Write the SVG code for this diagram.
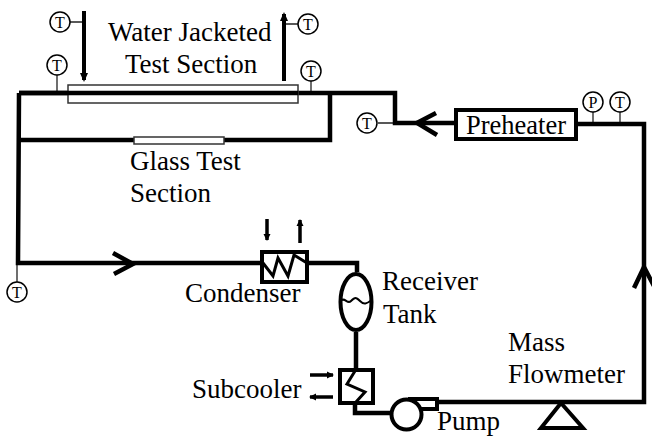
<svg xmlns="http://www.w3.org/2000/svg" width="652" height="436" viewBox="0 0 652 436">
<defs>
<marker id="ah" markerUnits="userSpaceOnUse" markerWidth="11" markerHeight="12" refX="7" refY="5" orient="auto"><path d="M0 1L9 5L0 9Z" fill="#000"/></marker>
<marker id="ahs" markerUnits="userSpaceOnUse" markerWidth="10" markerHeight="10" refX="6" refY="5" orient="auto"><path d="M0 1.500L7 5L0 8.500Z" fill="#000"/></marker>
</defs>
<style>
.p{fill:none;stroke:#000;stroke-width:4.500}
.c{fill:none;stroke:#000;stroke-width:3}
.w{fill:#fff;stroke:#000;stroke-width:4}
.t{fill:none;stroke:#222;stroke-width:1.300}
.tc{fill:#fff;stroke:#000;stroke-width:1.500}
.j{fill:#fff;stroke:#333;stroke-width:1.500}
.a{fill:none;stroke:#000;stroke-width:4}
.as{fill:none;stroke:#000;stroke-width:3.500}
text{font-family:"Liberation Serif","Times New Roman",serif;fill:#000}
.l{font-size:27px}
.s{font-size:16px;text-anchor:middle}
</style>
<rect width="652" height="436" fill="#fff"/>
<g id="connectors">
<path class="t" d="M57 75V91M311 81V91M70 22H84M285 24H298M378 123H394M593 112V123M620 112V123M17 265V282"/>
<path class="p" d="M19 140H330V93M19 93H395V123H455M576 124H644V402H437M19 93L18 263H262M307 263H357V272M356 332V371M355 403V413H391"/>
<path class="p" d="M436 113L417 123L437 135M113 253L133 264L114 274M634 288L644 267L655 288"/>
<path class="a" d="M84 11V80" marker-end="url(#ah)"/>
<path class="a" d="M284 81V14" marker-end="url(#ah)"/>
<path class="as" d="M267 219V240" marker-end="url(#ahs)"/>
<path class="as" d="M300 243V220" marker-end="url(#ahs)"/>
<path class="as" d="M310 375H333" marker-end="url(#ahs)"/>
<path class="as" d="M333 397H310" marker-end="url(#ahs)"/>
</g>
<g id="water-jacket"><rect class="j" x="68" y="85" width="230" height="18"/><path d="M19 93H298" class="p"/></g>
<g id="glass-section"><rect class="j" x="134" y="137" width="90" height="7"/></g>
<g id="preheater"><rect class="w" x="456" y="110" width="120" height="29"/><text class="l" x="466" y="134" style="font-size:26.500px">Preheater</text></g>
<g id="condenser"><rect class="w" x="262" y="252" width="45" height="30"/><path class="c" d="M263 263L273 276L278 258L288 276L294 255L307 263"/><text class="l" x="185" y="302">Condenser</text></g>
<g id="tank"><ellipse class="w" cx="356" cy="302" rx="15.500" ry="28"/><path d="M340 301C345 296 347 305 351 301S356 297 360 301S366 304 372 300" fill="none" stroke="#000" stroke-width="2"/><text class="l" x="382" y="290">Receiver</text><text class="l" x="383" y="323">Tank</text></g>
<g id="subcooler"><rect class="w" x="340" y="370" width="33" height="33"/><path class="c" d="M355 371L347 384L365 392L356 402"/><text class="l" x="192" y="398">Subcooler</text></g>
<g id="pump"><rect class="w" x="410" y="399" width="27" height="10"/><circle class="w" cx="406.500" cy="414.500" r="15"/><text class="l" x="437" y="430">Pump</text></g>
<g id="flowmeter"><path class="w" d="M561 403L541 428H583Z"/><text class="l" x="508" y="351">Mass</text><text class="l" x="508" y="383">Flowmeter</text></g>
<g id="labels"><text class="l" x="108" y="41">Water Jacketed</text><text class="l" x="125" y="73">Test Section</text><text class="l" x="130" y="170">Glass Test</text><text class="l" x="130" y="202">Section</text></g>
<g id="t1"><circle class="tc" cx="60" cy="22" r="10"/><text class="s" x="60" y="27.500">T</text></g>
<g id="t2"><circle class="tc" cx="308" cy="24" r="10"/><text class="s" x="308" y="29.500">T</text></g>
<g id="t3"><circle class="tc" cx="57" cy="65" r="10"/><text class="s" x="57" y="70.500">T</text></g>
<g id="t4"><circle class="tc" cx="311" cy="71" r="10"/><text class="s" x="311" y="76.500">T</text></g>
<g id="t5"><circle class="tc" cx="367" cy="123" r="10"/><text class="s" x="367" y="128.500">T</text></g>
<g id="p1"><circle class="tc" cx="593" cy="102" r="10"/><text class="s" x="593" y="107.500">P</text></g>
<g id="t6"><circle class="tc" cx="620" cy="102" r="10"/><text class="s" x="620" y="107.500">T</text></g>
<g id="t7"><circle class="tc" cx="17" cy="292" r="10"/><text class="s" x="17" y="297.500">T</text></g>
</svg>
